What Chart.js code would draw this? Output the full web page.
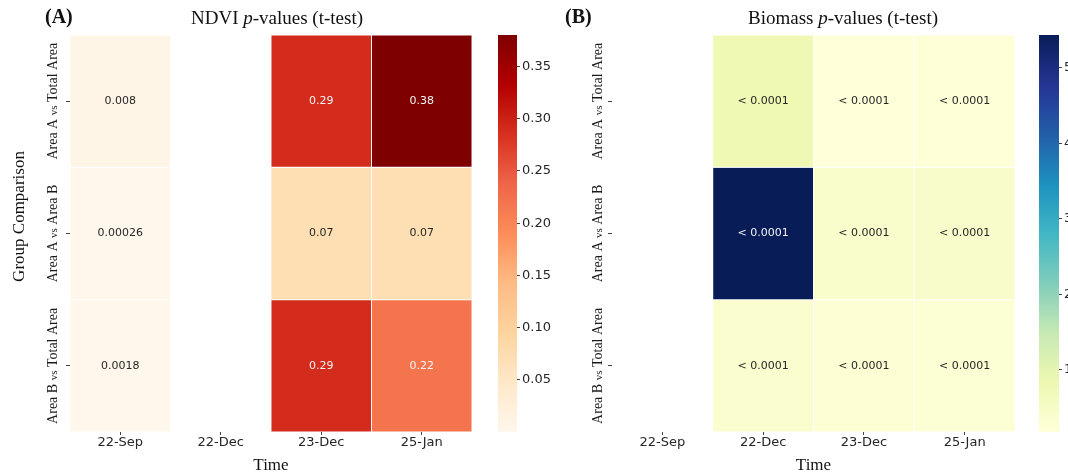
<!DOCTYPE html>
<html>
<head>
<meta charset="utf-8">
<script src="https://cdn.jsdelivr.net/npm/chart.js@4.4.1/dist/chart.umd.min.js"></script>
<style>
  html, body { margin: 0; padding: 0; background: #ffffff; }
  #wrap { position: relative; width: 1068px; height: 474px; overflow: hidden; }
  #wrap canvas { position: absolute; top: 0; }
</style>
</head>
<body>
<div id="wrap">
  <canvas id="ndvi" width="490" height="474" style="left:0px"></canvas>
  <canvas id="ndviBar" width="70" height="474" style="left:490px"></canvas>
  <canvas id="bio" width="490" height="474" style="left:540px"></canvas>
  <canvas id="bioBar" width="38" height="474" style="left:1030px"></canvas>
</div>
<script>
// Sampling dates (columns) and pairwise comparisons (rows)
const timePoints = ['22-Sep', '22-Dec', '23-Dec', '25-Jan'];
const comparisons = ['Area A vs Total Area', 'Area A vs Area B', 'Area B vs Total Area'];

// NDVI t-test p-values per comparison (null = no test on that date)
const ndviAvsTotal = [0.008, null, 0.29, 0.38];
const ndviAvsB     = [0.00026, null, 0.07, 0.07];
const ndviBvsTotal = [0.0018, null, 0.29, 0.22];

// Biomass: colour-scale statistic per comparison, and the reported p-values
const bioAvsTotal = [null, 0.78, 0.18, 0.22];
const bioAvsB     = [null, 5.43, 0.40, 0.42];
const bioBvsTotal = [null, 0.38, 0.26, 0.28];
const bioPAvsTotal = [null, '< 0.0001', '< 0.0001', '< 0.0001'];
const bioPAvsB     = [null, '< 0.0001', '< 0.0001', '< 0.0001'];
const bioPBvsTotal = [null, '< 0.0001', '< 0.0001', '< 0.0001'];

// Colour-bar tick values
const ndviTicks = [0.05, 0.10, 0.15, 0.20, 0.25, 0.30, 0.35];
const bioTicks = [1, 2, 3, 4, 5];

// Sequential colour maps
const OrRd = ['#fff7ec', '#fee8c8', '#fdd49e', '#fdbb84', '#fc8d59', '#ef6548', '#d7301f', '#b30000', '#7f0000'];
const YlGnBu = ['#ffffd9', '#edf8b1', '#c7e9b4', '#7fcdbb', '#41b6c4', '#1d91c0', '#225ea8', '#253494', '#081d58'];

const SANS = "'DejaVu Sans', sans-serif";
const SERIF = "'Liberation Serif', 'Times New Roman', serif";
const TICK_COLOR = '#262626';

function hexToRgb(h) {
  return [parseInt(h.slice(1, 3), 16), parseInt(h.slice(3, 5), 16), parseInt(h.slice(5, 7), 16)];
}
function cmapRgb(stops, t) {
  t = Math.max(0, Math.min(1, t));
  const n = stops.length - 1;
  const i = Math.min(Math.floor(t * n), n - 1);
  const f = t * n - i;
  const a = hexToRgb(stops[i]), b = hexToRgb(stops[i + 1]);
  return a.map((v, k) => Math.round(v + (b[k] - v) * f));
}
function rgbStr(c) { return `rgb(${c[0]},${c[1]},${c[2]})`; }
function luminance(c) {
  const lin = c.map(v => { v /= 255; return v <= 0.03928 ? v / 12.92 : Math.pow((v + 0.055) / 1.055, 2.4); });
  return 0.2126 * lin[0] + 0.7152 * lin[1] + 0.0722 * lin[2];
}

// Draw a run of differently styled text pieces centred on (cx, cy), optionally rotated
function drawRich(ctx, parts, cx, cy, angle, baselineShift) {
  ctx.save();
  ctx.translate(cx, cy);
  ctx.rotate(angle || 0);
  ctx.textBaseline = 'alphabetic';
  ctx.textAlign = 'left';
  let total = 0;
  parts.forEach(p => { ctx.font = p.font; p.w = ctx.measureText(p.text).width; total += p.w; });
  let x = -total / 2;
  parts.forEach(p => {
    ctx.font = p.font;
    ctx.fillStyle = p.color || '#111111';
    ctx.fillText(p.text, x, baselineShift);
    x += p.w;
  });
  ctx.restore();
}

// Titles, row labels and cell annotations of a heat map
const heatmapText = {
  id: 'heatmapText',
  afterDatasetsDraw(chart) {
    const ctx = chart.ctx;
    ctx.save();
    ctx.font = `11px ${SANS}`;
    ctx.textAlign = 'center';
    ctx.textBaseline = 'middle';
    chart.data.datasets.forEach((ds, r) => {
      const meta = chart.getDatasetMeta(r);
      meta.data.forEach((el, c) => {
        if (ds.data[c] == null) return;
        ctx.fillStyle = ds.textColors[c];
        ctx.fillText(ds.cellText[c], el.x, (el.y + el.base) / 2);
      });
    });
    ctx.restore();
  },
  afterDraw(chart) {
    const o = chart.options.plugins.heatmapText;
    const ctx = chart.ctx;
    const area = chart.chartArea;
    const yScale = chart.scales.y;
    // panel letter
    ctx.save();
    ctx.font = `bold 20px ${SERIF}`;
    ctx.fillStyle = '#111111';
    ctx.textAlign = 'left';
    ctx.textBaseline = 'middle';
    ctx.fillText(o.letter, o.letterX, 18);
    ctx.restore();
    // panel title with italic p
    drawRich(ctx, [
      { text: o.variable + ' ', font: `19px ${SERIF}` },
      { text: 'p', font: `italic 19px ${SERIF}` },
      { text: '-values (t-test)', font: `19px ${SERIF}` }
    ], o.titleX, 18, 0, 6);
    // row labels, read bottom to top, with a smaller "vs"
    comparisons.forEach((lab, r) => {
      const [a, b] = lab.split(' vs ');
      drawRich(ctx, [
        { text: a + ' ', font: `14px ${SERIF}`, color: '#1a1a1a' },
        { text: 'vs', font: `11px ${SERIF}`, color: '#1a1a1a' },
        { text: ' ' + b, font: `14px ${SERIF}`, color: '#1a1a1a' }
      ], area.left - o.rowLabelGap, yScale.getPixelForValue(r + 0.5), -Math.PI / 2, 5);
    });
    if (o.yTitle) {
      drawRich(ctx, [{ text: o.yTitle, font: `17px ${SERIF}`, color: '#111111' }],
        18, (area.top + area.bottom) / 2 - 17, -Math.PI / 2, 6);
    }
  }
};

function heatmap(id, rows, cellText, stops, text, axisWidth, padRight) {
  const all = rows.flat().filter(v => v != null);
  const vmin = Math.min(...all), vmax = Math.max(...all);
  const datasets = rows.map((vals, r) => {
    const cols = vals.map(v => v == null ? null : cmapRgb(stops, (v - vmin) / (vmax - vmin)));
    return {
      label: comparisons[r],
      data: vals.map(v => v == null ? null : [r, r + 1]),
      backgroundColor: cols.map(c => c ? rgbStr(c) : 'rgba(0,0,0,0)'),
      textColors: cols.map(c => c ? (luminance(c) <= 0.408 ? '#f4f4f4' : '#262626') : null),
      cellText: cellText[r],
      borderColor: '#ffffff',
      borderWidth: 0.8,
      borderSkipped: false,
      barPercentage: 1,
      categoryPercentage: 1
    };
  });
  return new Chart(document.getElementById(id), {
    type: 'bar',
    data: { labels: timePoints, datasets },
    plugins: [heatmapText],
    options: {
      responsive: false,
      animation: false,
      layout: { padding: { left: 0, right: padRight, top: 35, bottom: 0 } },
      plugins: { legend: { display: false }, tooltip: { enabled: false }, heatmapText: text },
      scales: {
        x: {
          stacked: true,
          grid: { display: true, offset: false, drawOnChartArea: false, tickLength: 3, tickColor: '#444444' },
          border: { display: false },
          ticks: { padding: 0, color: TICK_COLOR, font: { family: SANS, size: 13 } },
          title: { display: true, text: 'Time', color: '#111111', font: { family: SERIF, size: 17, lineHeight: 1 }, padding: { top: 0, bottom: 0 } },
          afterFit(s) { s.height = 42; }
        },
        y: {
          type: 'linear', min: 0, max: 3, reverse: true, stacked: false,
          grid: { display: true, drawOnChartArea: false, tickLength: 4, tickColor: '#444444' },
          border: { display: false },
          ticks: { display: false },
          afterBuildTicks(s) { s.ticks = comparisons.map((_, i) => ({ value: i + 0.5 })); },
          afterFit(s) { s.width = axisWidth; }
        }
      }
    }
  });
}

function colorbar(id, stops, vmin, vmax, ticks, fmt, plotLeft, plotRight) {
  const canvas = document.getElementById(id);
  return new Chart(canvas, {
    type: 'bar',
    data: {
      labels: [''],
      datasets: [{
        data: [[vmin, vmax]],
        backgroundColor(ctx) {
          const a = ctx.chart.chartArea;
          if (!a) return null;
          const g = ctx.chart.ctx.createLinearGradient(0, a.bottom, 0, a.top);
          stops.forEach((s, i) => g.addColorStop(i / (stops.length - 1), s));
          return g;
        },
        borderWidth: 0,
        barPercentage: 1,
        categoryPercentage: 1
      }]
    },
    options: {
      responsive: false,
      animation: false,
      layout: { padding: { left: plotLeft, right: 0, top: 35, bottom: 42 } },
      plugins: { legend: { display: false }, tooltip: { enabled: false } },
      scales: {
        x: { display: false },
        y: {
          position: 'right', min: vmin, max: vmax,
          grid: { display: true, drawOnChartArea: false, tickLength: 3, tickColor: '#444444' },
          border: { display: false },
          ticks: { padding: 2, color: TICK_COLOR, font: { family: SANS, size: 13 }, callback: v => fmt(v) },
          afterBuildTicks(s) { s.ticks = ticks.map(v => ({ value: v })); },
          afterFit(s) { s.width = canvas.width - plotRight; }
        }
      }
    }
  });
}

const ndviRows = [ndviAvsTotal, ndviAvsB, ndviBvsTotal];
const bioRows = [bioAvsTotal, bioAvsB, bioBvsTotal];

heatmap('ndvi', ndviRows, ndviRows.map(row => row.map(v => v == null ? null : String(v))), OrRd,
  { letter: '(A)', letterX: 45, variable: 'NDVI', titleX: 277, rowLabelGap: 18, yTitle: 'Group Comparison' }, 70, 18);
heatmap('bio', bioRows, [bioPAvsTotal, bioPAvsB, bioPBvsTotal], YlGnBu,
  { letter: '(B)', letterX: 25, variable: 'Biomass', titleX: 303, rowLabelGap: 15, yTitle: null }, 72, 15);

const ndviAll = ndviRows.flat().filter(v => v != null);
const bioAll = bioRows.flat().filter(v => v != null);
colorbar('ndviBar', OrRd, Math.min(...ndviAll), Math.max(...ndviAll), ndviTicks, v => v.toFixed(2), 8, 27);
colorbar('bioBar', YlGnBu, Math.min(...bioAll), Math.max(...bioAll), bioTicks, v => String(v), 9, 29);
</script>
</body>
</html>
